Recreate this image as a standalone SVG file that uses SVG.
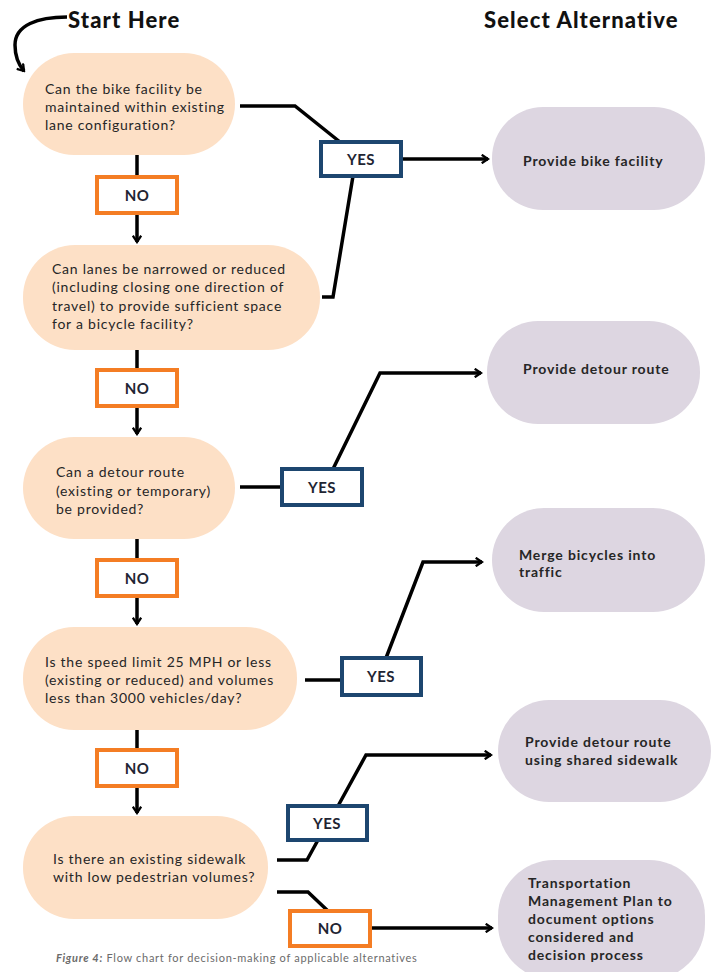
<svg xmlns="http://www.w3.org/2000/svg" width="714" height="972" viewBox="0 0 714 972">
  <style>
    .q { fill: #fde0c6; }
    .alt { fill: #ddd6e1; }
    .qt { font-family: Lato, "Open Sans", "Liberation Sans", sans-serif; font-size: 14px; fill: #262626; letter-spacing: 0.75px; }
    .at { font-family: Lato, "Open Sans", "Liberation Sans", sans-serif; font-size: 14px; font-weight: 700; fill: #262626; letter-spacing: 0.85px; }
    .yes rect { fill: #fff; stroke: #1d466f; stroke-width: 4; }
    .no rect { fill: #fff; stroke: #f47d24; stroke-width: 4; }
    .lbl { font-family: Lato, "Liberation Sans", sans-serif; font-size: 15px; font-weight: 700; fill: #1f2533; text-anchor: middle; letter-spacing: 0.5px; }
    .head { font-family: Lato, "Liberation Sans", sans-serif; font-size: 22px; font-weight: 900; fill: #111; letter-spacing: 1.1px; }
    .ln { fill: none; stroke: #000; stroke-width: 3.5; stroke-linejoin: miter; }
    .cap { font-family: Lato, "Liberation Sans", sans-serif; font-size: 11px; fill: #6b6b6b; letter-spacing: 0.7px; }
  </style>
  <defs>
    <marker id="arrow" viewBox="0 0 10 10" refX="8" refY="5" markerWidth="3" markerHeight="3" orient="auto" markerUnits="strokeWidth">
      <path d="M2,1 L8,5 L2,9" fill="none" stroke="#000" stroke-width="2.2"/>
    </marker>
  </defs>

  <rect width="714" height="972" fill="#fff"/>

  <!-- headings -->
  <text class="head" x="68" y="28">Start Here</text>
  <text class="head" x="484" y="28">Select Alternative</text>

  <!-- connectors -->
  <g id="connectors">
    <path class="ln" d="M67,17 C38,17 15,25 15,45 C15,57 18,64 24,71" marker-end="url(#arrow)"/>
    <!-- main NO column -->
    <path class="ln" d="M137,155 V177"/>
    <path class="ln" d="M137,213 V242" marker-end="url(#arrow)"/>
    <path class="ln" d="M137,350 V370"/>
    <path class="ln" d="M137,406 V434" marker-end="url(#arrow)"/>
    <path class="ln" d="M137,539 V560"/>
    <path class="ln" d="M137,596 V624" marker-end="url(#arrow)"/>
    <path class="ln" d="M137,730 V750"/>
    <path class="ln" d="M137,786 V813" marker-end="url(#arrow)"/>
    <!-- YES branches -->
    <path class="ln" d="M240,106 H295 L340,142"/>
    <path class="ln" d="M322,297 H333 L353,176"/>
    <path class="ln" d="M401,159 H488" marker-end="url(#arrow)"/>
    <path class="ln" d="M240,487 H282"/>
    <path class="ln" d="M333,469 L380,373 H481" marker-end="url(#arrow)"/>
    <path class="ln" d="M305,680 H342"/>
    <path class="ln" d="M386,658 L423,562 H482" marker-end="url(#arrow)"/>
    <path class="ln" d="M277,860 H307 L318,840"/>
    <path class="ln" d="M338,806 L366,755 H491" marker-end="url(#arrow)"/>
    <path class="ln" d="M277,892 H308 L328,911"/>
    <path class="ln" d="M370,928 H492" marker-end="url(#arrow)"/>
  </g>

  <!-- decision nodes -->
  <g id="q1">
    <rect class="q" x="23" y="53" width="212" height="102" rx="51"/>
    <text class="qt" x="45" y="94">Can the bike facility be</text>
    <text class="qt" x="45" y="112">maintained within existing</text>
    <text class="qt" x="45" y="130">lane configuration?</text>
  </g>
  <g id="q2">
    <rect class="q" x="23" y="245" width="297" height="105" rx="52"/>
    <text class="qt" x="52" y="274">Can lanes be narrowed or reduced</text>
    <text class="qt" x="52" y="292">(including closing one direction of</text>
    <text class="qt" x="52" y="311">travel) to provide sufficient space</text>
    <text class="qt" x="52" y="329">for a bicycle facility?</text>
  </g>
  <g id="q3">
    <rect class="q" x="23" y="437" width="212" height="102" rx="51"/>
    <text class="qt" x="56" y="477">Can a detour route</text>
    <text class="qt" x="56" y="496">(existing or temporary)</text>
    <text class="qt" x="56" y="514">be provided?</text>
  </g>
  <g id="q4">
    <rect class="q" x="23" y="627" width="274" height="103" rx="51"/>
    <text class="qt" x="45" y="667">Is the speed limit 25 MPH or less</text>
    <text class="qt" x="45" y="685">(existing or reduced) and volumes</text>
    <text class="qt" x="45" y="703">less than 3000 vehicles/day?</text>
  </g>
  <g id="q5">
    <rect class="q" x="23" y="816" width="245" height="103" rx="51"/>
    <text class="qt" x="53" y="864">Is there an existing sidewalk</text>
    <text class="qt" x="53" y="882">with low pedestrian volumes?</text>
  </g>

  <!-- answer labels -->
  <g id="no1" class="no"><rect x="97" y="177" width="80" height="36"/><text class="lbl" x="137" y="201">NO</text></g>
  <g id="no2" class="no"><rect x="97" y="370" width="80" height="36"/><text class="lbl" x="137" y="394">NO</text></g>
  <g id="no3" class="no"><rect x="97" y="560" width="80" height="36"/><text class="lbl" x="137" y="584">NO</text></g>
  <g id="no4" class="no"><rect x="97" y="750" width="80" height="36"/><text class="lbl" x="137" y="774">NO</text></g>
  <g id="no5" class="no"><rect x="290" y="911" width="80" height="35"/><text class="lbl" x="330" y="934">NO</text></g>
  <g id="yes1" class="yes"><rect x="321" y="142" width="80" height="34"/><text class="lbl" x="361" y="165">YES</text></g>
  <g id="yes2" class="yes"><rect x="282" y="469" width="80" height="36"/><text class="lbl" x="322" y="493">YES</text></g>
  <g id="yes3" class="yes"><rect x="342" y="658" width="79" height="37"/><text class="lbl" x="381" y="682">YES</text></g>
  <g id="yes4" class="yes"><rect x="288" y="806" width="79" height="34"/><text class="lbl" x="327" y="829">YES</text></g>

  <!-- alternatives -->
  <g id="a1">
    <rect class="alt" x="492" y="107" width="213" height="103" rx="51"/>
    <text class="at" x="523" y="166">Provide bike facility</text>
  </g>
  <g id="a2">
    <rect class="alt" x="487" y="321" width="213" height="103" rx="51"/>
    <text class="at" x="523" y="374">Provide detour route</text>
  </g>
  <g id="a3">
    <rect class="alt" x="492" y="508" width="213" height="104" rx="52"/>
    <text class="at" x="519" y="560">Merge bicycles into</text>
    <text class="at" x="519" y="577">traffic</text>
  </g>
  <g id="a4">
    <rect class="alt" x="498" y="700" width="213" height="102" rx="51"/>
    <text class="at" x="525" y="747">Provide detour route</text>
    <text class="at" x="525" y="765">using shared sidewalk</text>
  </g>
  <g id="a5">
    <rect class="alt" x="498" y="860" width="207" height="120" rx="56"/>
    <text class="at" x="528" y="888">Transportation</text>
    <text class="at" x="528" y="906">Management Plan to</text>
    <text class="at" x="528" y="924">document options</text>
    <text class="at" x="528" y="942">considered and</text>
    <text class="at" x="528" y="960">decision process</text>
  </g>

  <!-- caption -->
  <text class="cap" x="56" y="962"><tspan font-weight="700" font-style="italic">Figure 4:</tspan> Flow chart for decision-making of applicable alternatives</text>
</svg>
